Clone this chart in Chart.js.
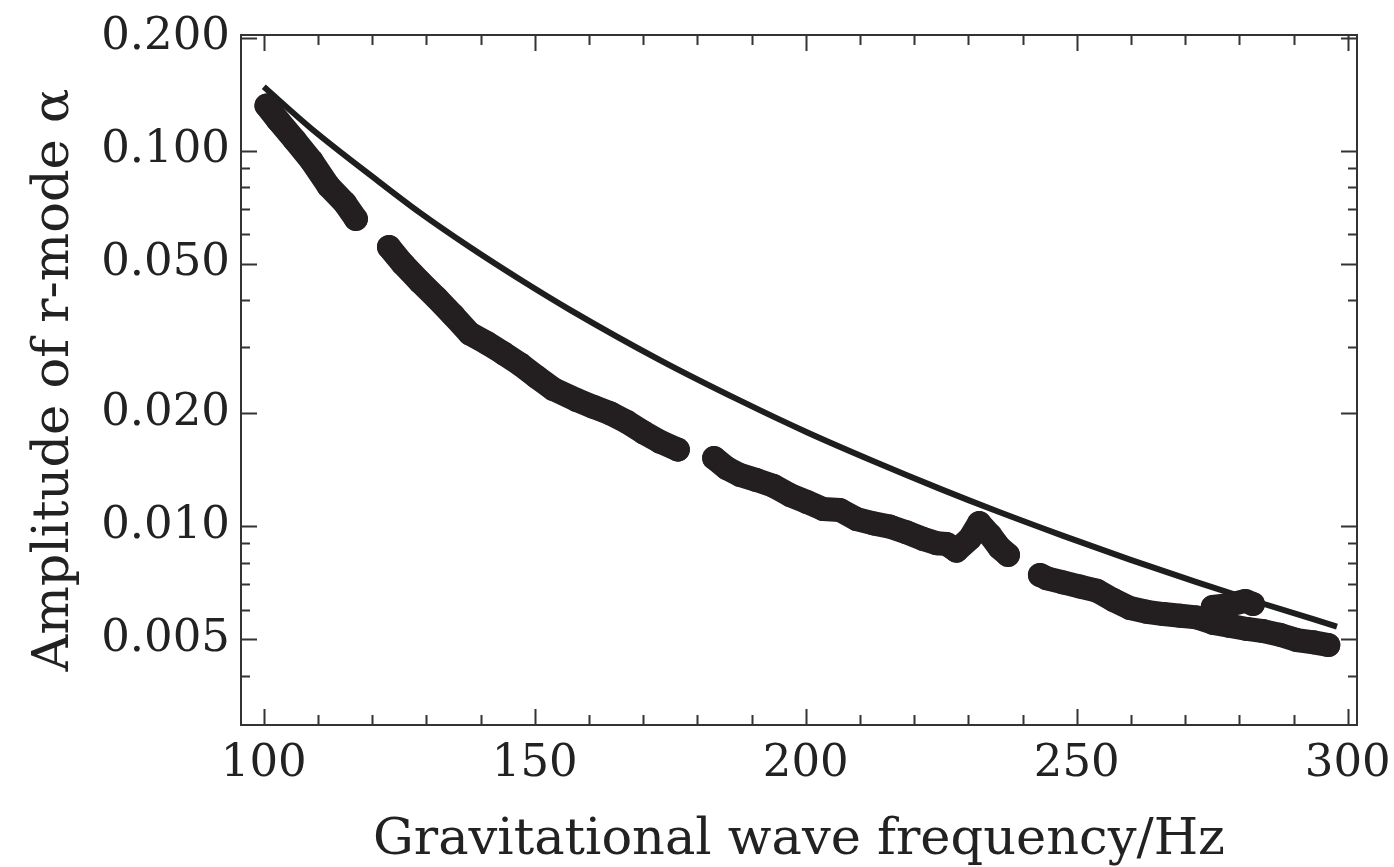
<!DOCTYPE html>
<html>
<head>
<meta charset="utf-8">
<script src="https://cdn.jsdelivr.net/npm/chart.js@4.4.1/dist/chart.umd.min.js"></script>
<style>
  html, body { margin: 0; padding: 0; background: #ffffff; }
  #wrap { width: 1394px; height: 867px; }
</style>
</head>
<body>
<div id="wrap"><canvas id="c" width="1394" height="867"></canvas></div>
<script>
// ---- data ----
const FREQ_TICKS = [100, 150, 200, 250, 300];
const FREQ_MINOR = [110, 120, 130, 140, 160, 170, 180, 190, 210, 220, 230, 240, 260, 270, 280, 290];
const ALPHA_TICKS = [0.2, 0.1, 0.05, 0.02, 0.01, 0.005];
const ALPHA_MINOR = [0.09, 0.08, 0.07, 0.06, 0.04, 0.03, 0.009, 0.008, 0.007, 0.006, 0.004];

// measured r-mode amplitude (null = gap in the data)
const bandFreq = [
  100.5, 102.6, 105.7, 108.8, 111.9, 115.0, 117.0,
  120,
  123.1, 125.7, 128.8, 131.9, 134.9, 138.0, 141.1, 144.2, 147.3, 150.3, 153.4, 157.7, 160.8, 163.9, 166.9, 170.0, 173.1, 176.4,
  180,
  183.1, 185.4, 187.9, 190.9, 194.0, 197.1, 200.2, 203.2, 206.3, 209.4, 212.5, 215.5, 218.6, 221.7, 224.2, 226.0, 227.8, 230.3, 232.0, 234.0, 235.8, 237.3,
  240,
  243.2, 244.5, 247.5, 250.6, 253.7, 256.7, 259.8, 262.9, 266.0, 269.1, 272.1, 275.2, 278.3, 281.4, 284.4, 287.5, 290.6, 293.7, 296.4
];
const bandAlpha = [
  0.1318, 0.1207, 0.1068, 0.0940, 0.0807, 0.0724, 0.0658,
  null,
  0.0554, 0.0499, 0.0448, 0.0405, 0.0365, 0.0326, 0.0308, 0.0289, 0.0270, 0.0250, 0.0232, 0.0217, 0.0208, 0.0200, 0.0190, 0.0178, 0.0168, 0.0160,
  null,
  0.0152, 0.01429, 0.01369, 0.01328, 0.01282, 0.01211, 0.01161, 0.01112, 0.01105, 0.01045, 0.01018, 0.00998, 0.00964, 0.00925, 0.00901, 0.00897, 0.00861, 0.00929, 0.01020, 0.00948, 0.00876, 0.00839,
  null,
  0.00742, 0.00727, 0.00709, 0.00691, 0.00674, 0.00637, 0.00606, 0.00592, 0.00584, 0.00578, 0.00572, 0.00553, 0.00543, 0.00533, 0.00526, 0.00514, 0.00498, 0.00491, 0.00483
];
// upper excursion of the data near 275-283 Hz
const bumpFreq = [275.1, 277.9, 281.1, 282.5];
const bumpAlpha = [0.00610, 0.00617, 0.00633, 0.00621];

// upper-limit curve
const lineFreq = [100, 108.8, 121.1, 128.8, 138.0, 147.3, 156.5, 173.1, 187.9, 200.2, 212.5, 224.8, 235.2, 247.5, 259.8, 272.1, 284.4, 298];
const lineAlpha = [0.148, 0.1144, 0.0830, 0.0684, 0.0554, 0.0454, 0.0377, 0.0277, 0.0216, 0.0178, 0.0149, 0.01258, 0.01098, 0.00943, 0.00815, 0.00710, 0.00622, 0.00541];

const X_MIN = 95.8, X_MAX = 301.7;
const Y_MIN = 0.002958, Y_MAX = 0.2032;

const INK = '#231f20';
const AXIS = '#333333';

const toPts = (xs, ys) => xs.map((v, i) => ({ x: v, y: ys[i] }));

const frameTicks = {
  id: 'frameTicks',
  afterDatasetsDraw(chart) {
    const { ctx, chartArea: a, scales } = chart;
    const xs = scales.x, ys = scales.y;
    ctx.save();
    ctx.strokeStyle = AXIS;
    ctx.lineWidth = 2;
    ctx.beginPath();
    const MAJ = 16, MIN = 9;
    const xt = (v, len) => {
      const p = Math.round(xs.getPixelForValue(v)) + 0.5;
      ctx.moveTo(p, a.bottom); ctx.lineTo(p, a.bottom - len);
      ctx.moveTo(p, a.top); ctx.lineTo(p, a.top + len);
    };
    const yt = (v, len) => {
      const p = Math.round(ys.getPixelForValue(v)) + 0.5;
      ctx.moveTo(a.left, p); ctx.lineTo(a.left + len, p);
      ctx.moveTo(a.right, p); ctx.lineTo(a.right - len, p);
    };
    FREQ_TICKS.forEach(v => xt(v, MAJ));
    FREQ_MINOR.forEach(v => xt(v, MIN + 1));
    ALPHA_TICKS.forEach(v => yt(v, MAJ));
    ALPHA_MINOR.forEach(v => yt(v, MIN));
    ctx.stroke();
    ctx.strokeRect(a.left, a.top, a.right - a.left, a.bottom - a.top);
    ctx.restore();
  }
};

Chart.defaults.font.family = "'DejaVu Serif', serif";
Chart.defaults.color = '#222';

new Chart(document.getElementById('c'), {
  type: 'scatter',
  data: {
    datasets: [
      {
        label: 'data',
        data: toPts(bandFreq, bandAlpha),
        showLine: true,
        spanGaps: false,
        borderColor: INK,
        backgroundColor: INK,
        borderWidth: 24,
        borderCapStyle: 'round',
        borderJoinStyle: 'round',
        pointRadius: 12,
        pointBorderWidth: 0,
        pointBackgroundColor: INK,
        tension: 0
      },
      {
        label: 'bump',
        data: toPts(bumpFreq, bumpAlpha),
        showLine: true,
        borderColor: INK,
        backgroundColor: INK,
        borderWidth: 24,
        borderCapStyle: 'round',
        borderJoinStyle: 'round',
        pointRadius: 12,
        pointBorderWidth: 0,
        tension: 0
      },
      {
        label: 'limit',
        data: toPts(lineFreq, lineAlpha),
        showLine: true,
        borderColor: '#1e1e1e',
        borderWidth: 6,
        pointRadius: 0,
        cubicInterpolationMode: 'monotone',
        fill: false
      }
    ]
  },
  options: {
    responsive: false,
    animation: false,
    devicePixelRatio: 1,
    layout: { padding: { left: 0, right: 37, top: 35, bottom: 0 } },
    plugins: { legend: { display: false }, tooltip: { enabled: false } },
    scales: {
      x: {
        type: 'linear',
        min: X_MIN, max: X_MAX,
        afterBuildTicks: s => { s.ticks = FREQ_TICKS.map(v => ({ value: v })); },
        afterFit: s => { s.height = 142; s.paddingLeft = 0; s.paddingRight = 0; },
        grid: { display: false, drawTicks: false },
        border: { display: false },
        ticks: { font: { size: 45 }, color: '#222', padding: 12, maxRotation: 0, autoSkip: false },
        title: { display: true, text: 'Gravitational wave frequency/Hz', font: { size: 51 }, color: '#222', padding: { top: 0, bottom: -4 } }
      },
      y: {
        type: 'logarithmic',
        min: Y_MIN, max: Y_MAX,
        afterBuildTicks: s => { s.ticks = ALPHA_TICKS.map(v => ({ value: v })); },
        afterFit: s => { s.width = 241; s.paddingTop = 0; s.paddingBottom = 0; },
        grid: { display: false, drawTicks: false },
        border: { display: false },
        ticks: { font: { size: 45 }, color: '#222', padding: 11, autoSkip: false, callback: v => Number(v).toFixed(3) },
        title: { display: true, text: 'Amplitude of r-mode α', font: { size: 51 }, color: '#222', padding: { top: 24, bottom: 0 } }
      }
    }
  },
  plugins: [frameTicks]
});
</script>
</body>
</html>
